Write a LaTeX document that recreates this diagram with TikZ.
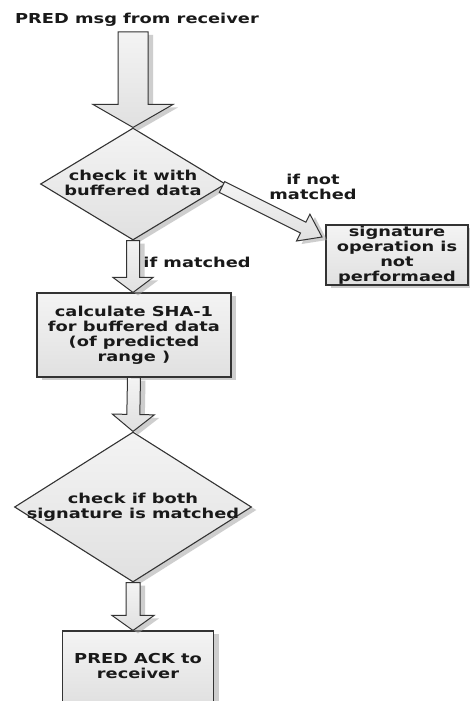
\documentclass[tikz,border=0pt]{standalone}
\usepackage{fontspec}
\newfontfamily\dfont{DejaVu Sans}[FakeStretch=1.3]
\usetikzlibrary{shapes.geometric,shadows,calc}
\newcommand\ctext[1]{\smash{\makebox[0pt]{\raisebox{-4.5pt}{\begin{tabular}{@{}c@{}}#1\end{tabular}}}}}
\newcommand\blockarrow[5]{%
  \coordinate (hb) at ($(#2)!#5!(#1)$);
  \path[blockarrowstyle] ($(#1)!#3!90:(#2)$) -- ($(hb)!#3!90:(#2)$) -- ($(hb)!#4!90:(#2)$) -- (#2)
     -- ($(hb)!#4!-90:(#2)$) -- ($(hb)!#3!-90:(#2)$) -- ($(#1)!#3!-90:(#2)$) -- cycle;
}
\tikzset{
  txt/.style={font=\dfont\bfseries\fontsize{13.7}{15}\selectfont, text=black!90},
  shadeone/.style={top color=gray!9, bottom color=gray!24, draw=black!80, line width=1.1pt},
  shad/.style={drop shadow={shadow xshift=5pt, shadow yshift=-3pt, fill=black!35, opacity=.55}},
  decision/.style={diamond, shadeone, shad, inner sep=0pt, txt},
  stepbox/.style={rectangle, shadeone, shad, inner sep=0pt, txt},
  blockarrowstyle/.style={shadeone, shad, line width=1pt},
  lbl/.style={txt, inner sep=0pt}
}
\begin{document}
\begin{tikzpicture}[x=1pt,y=-1pt]
\useasboundingbox (0,0) rectangle (470,701);
\fill[white] (0,0) rectangle (470,701);
\clip (0,0) rectangle (470,701);

\node[lbl] (title) at (137,20) {PRED msg from receiver};

\node[decision, minimum width=185pt, minimum height=112pt] (d1) at (133,184) {\ctext{check it with\\buffered data}};
\node[stepbox, minimum width=142pt, minimum height=60pt] (s) at (397,255) {\ctext{signature\\operation is\\not\\performaed}};
\node[stepbox, minimum width=194pt, minimum height=84pt] (b2) at (134,335) {\ctext{calculate SHA-1\\for buffered data\\(of predicted\\range )}};
\node[decision, minimum width=237pt, minimum height=150pt] (d2) at (133,507) {\ctext{check if both\\signature is matched}};
\node[stepbox, minimum width=151pt, minimum height=72pt] (b3) at (138,667) {\ctext{PRED ACK to\\receiver}};

\node[lbl] (lnm) at (313,188) {\ctext{if not\\matched}};
\node[lbl] (lm) at (197,262) {if matched};

\coordinate (a1s) at (133,32);
\blockarrow{a1s}{d1.north}{15pt}{40pt}{23pt}
\coordinate (a2s) at (222,187);
\coordinate (a2e) at (322,237);
\blockarrow{a2s}{a2e}{6pt}{15pt}{21pt}
\blockarrow{d1.south}{d1.south |- b2.north}{6.5pt}{20pt}{15pt}
\blockarrow{b2.south}{d2.north}{6.5pt}{21pt}{17pt}
\blockarrow{d2.south}{d2.south |- b3.north}{7pt}{21pt}{15pt}
\end{tikzpicture}
\end{document}
